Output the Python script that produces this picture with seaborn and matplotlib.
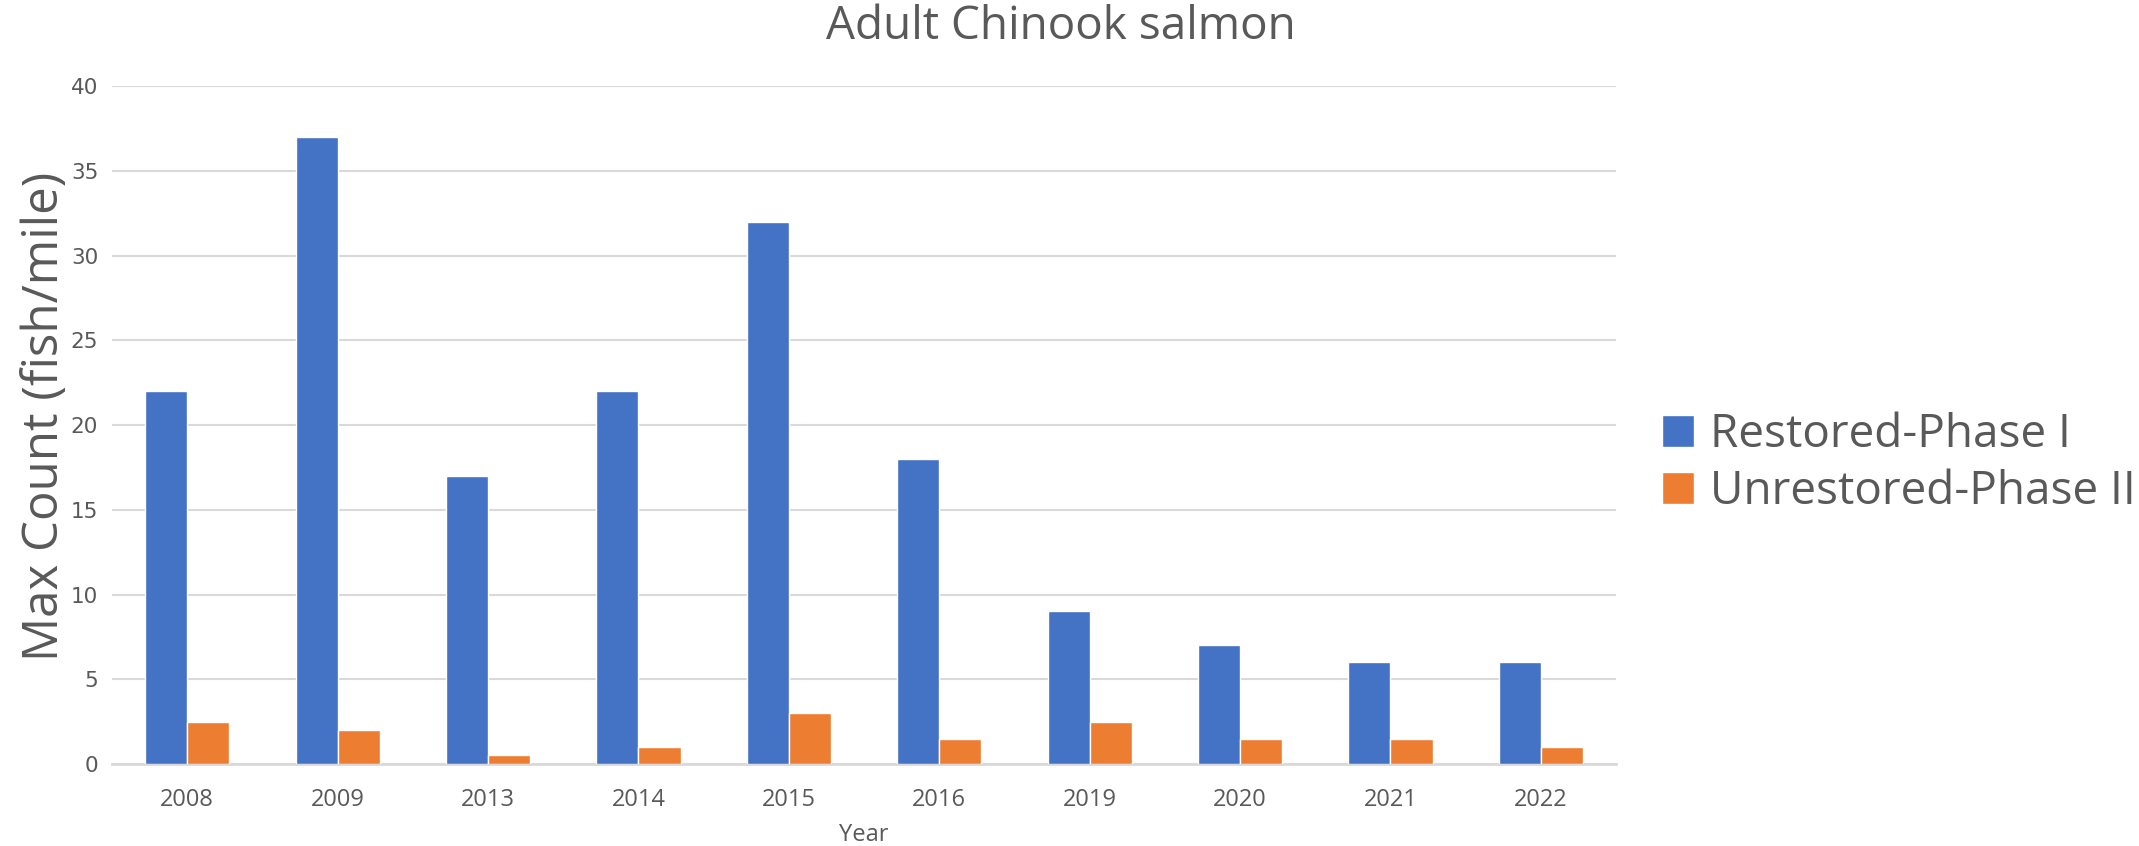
import seaborn as sns
from matplotlib import pyplot as plt
import pandas as pd

years = ["2008", "2009", "2013", "2014", "2015", "2016", "2019", "2020", "2021", "2022"]
restored = [22, 37, 17, 22, 32, 18, 9, 7, 6, 6]
unrestored = [2.5, 2, 0.5, 1, 3, 1.5, 2.5, 1.5, 1.5, 1]
series_names = ["Restored-Phase I", "Unrestored-Phase II"]
y_ticks = [0, 5, 10, 15, 20, 25, 30, 35, 40]
colors = ["#4472C4", "#ED7D31"]
text_color = "#595959"
grid_color = "#D9D9D9"

df = pd.DataFrame({
    "Year": years * 2,
    "Count": restored + unrestored,
    "Series": [series_names[0]] * len(years) + [series_names[1]] * len(years),
})

sns.set_style("white")
plt.rcParams["font.family"] = ["Open Sans", "DejaVu Sans"]

fig = plt.figure(figsize=(21.39, 8.46), dpi=100)
ax = fig.add_axes([0.0524, 0.097, 0.7031, 0.801])

sns.barplot(data=df, x="Year", y="Count", hue="Series", order=years,
            hue_order=series_names, palette=colors, width=0.56,
            saturation=1, ax=ax, zorder=3)

ax.set_xlim(-0.5, len(years) - 0.5)
ax.set_ylim(0, 40)
ax.set_yticks(y_ticks, labels=[str(v) for v in y_ticks],
              fontfamily="DejaVu Sans", fontsize=15.5)
ax.grid(axis="y", color=grid_color, linewidth=1.5, zorder=0)
for side in ["top", "right", "left"]:
    ax.spines[side].set_visible(False)
ax.spines["bottom"].set_color(grid_color)
ax.spines["bottom"].set_linewidth(2)
ax.tick_params(axis="both", length=0, colors=text_color)
ax.tick_params(axis="y", pad=10)
ax.tick_params(axis="x", labelsize=17, pad=17)

fig.suptitle("Adult Chinook salmon", fontsize=33, color=text_color, x=0.496, y=0.995)
ax.set_xlabel("Year", fontsize=17, color=text_color, labelpad=8)
ax.set_ylabel("Max Count (fish/mile)", fontsize=35.5, color=text_color)
ax.yaxis.set_label_coords(-0.028, 0.513)

leg = ax.legend(loc="center left", bbox_to_anchor=(1.003, 0.443), frameon=False,
                fontsize=33, handlelength=0.7, handleheight=0.7,
                handletextpad=0.35, labelspacing=0.25)
for t in leg.get_texts():
    t.set_color(text_color)

fig.savefig("out.png", dpi=100)
